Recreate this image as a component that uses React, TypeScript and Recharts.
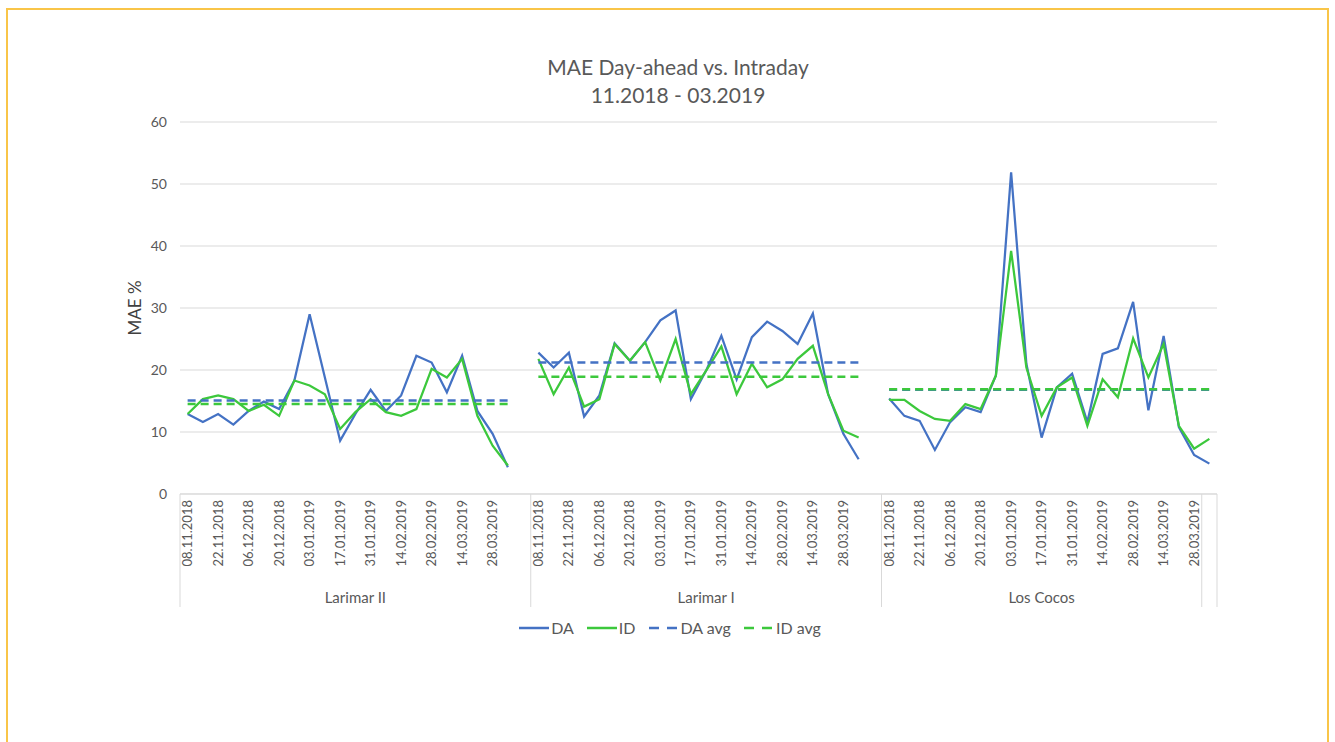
import { LineChart, Line, XAxis, YAxis, CartesianGrid, Legend } from 'recharts'

// weekly buckets (start of week)
const WEEKS = [
  '08.11.2018', '15.11.2018', '22.11.2018', '29.11.2018', '06.12.2018', '13.12.2018',
  '20.12.2018', '27.12.2018', '03.01.2019', '10.01.2019', '17.01.2019', '24.01.2019',
  '31.01.2019', '07.02.2019', '14.02.2019', '21.02.2019', '28.02.2019', '07.03.2019',
  '14.03.2019', '21.03.2019', '28.03.2019', '04.04.2019',
]

const PLANTS = ['Larimar II', 'Larimar I', 'Los Cocos']
// number of category slots each plant takes on the axis
const SLOTS = [23, 23, 22]

const DA_LARIMAR_II = [12.9, 11.6, 12.9, 11.2, 13.4, 14.9, 13.7, 18.3, 29.0, 18.8, 8.6, 12.9, 16.8, 13.4, 15.9, 22.3, 21.2, 16.4, 22.3, 13.4, 9.7, 4.3]
const ID_LARIMAR_II = [12.9, 15.3, 15.9, 15.3, 13.4, 14.4, 12.6, 18.3, 17.5, 16.1, 10.5, 13.2, 15.3, 13.2, 12.6, 13.7, 20.2, 18.8, 21.8, 12.6, 7.8, 4.6]

const DA_LARIMAR_I = [22.8, 20.4, 22.8, 12.5, 15.9, 24.3, 21.5, 24.5, 28.0, 29.6, 15.3, 19.9, 25.5, 18.5, 25.3, 27.8, 26.3, 24.2, 29.1, 16.1, 9.7, 5.6]
const ID_LARIMAR_I = [21.8, 16.1, 20.4, 14.1, 15.3, 24.2, 21.5, 24.5, 18.3, 25.0, 16.1, 19.9, 23.8, 16.1, 21.0, 17.2, 18.5, 21.8, 23.9, 16.1, 10.2, 9.1]

const DA_LOS_COCOS = [15.4, 12.6, 11.8, 7.1, 11.6, 14.0, 13.2, 19.1, 51.9, 21.0, 9.1, 17.2, 19.4, 11.6, 22.6, 23.5, 31.0, 13.5, 25.5, 10.8, 6.3, 4.9]
const ID_LOS_COCOS = [15.2, 15.2, 13.4, 12.1, 11.8, 14.5, 13.7, 19.1, 39.2, 20.4, 12.6, 17.2, 18.8, 11.0, 18.5, 15.6, 25.1, 18.8, 24.2, 11.0, 7.3, 8.9]

const DA_AVG = [15.1, 21.2, 16.8]
const ID_AVG = [14.5, 18.9, 16.9]

const Y_TICKS = [0, 10, 20, 30, 40, 50, 60]
const LEGEND_ORDER = ['DA', 'ID', 'DA avg', 'ID avg']

const DA_SERIES = [DA_LARIMAR_II, DA_LARIMAR_I, DA_LOS_COCOS]
const ID_SERIES = [ID_LARIMAR_II, ID_LARIMAR_I, ID_LOS_COCOS]

type Row = {
  key: string
  label: string
  plant: number
  slot: number
  DA: number | null
  ID: number | null
  DAavg: number | null
  IDavg: number | null
}

const rows: Row[] = []
PLANTS.forEach((plant, p) => {
  for (let i = 0; i < SLOTS[p]; i++) {
    const has = i < DA_SERIES[p].length
    rows.push({
      key: `${plant}-${i}`,
      label: has && i % 2 === 0 ? WEEKS[i] : '',
      plant: p,
      slot: i,
      DA: has ? DA_SERIES[p][i] : null,
      ID: has ? ID_SERIES[p][i] : null,
      DAavg: has ? DA_AVG[p] : null,
      IDavg: has ? ID_AVG[p] : null,
    })
  }
})
const rowByKey = new Map(rows.map((r) => [r.key, r]))

const W = 1335
const H = 742
const PLOT_LEFT = 180
const PLOT_RIGHT = 1217
const PLOT_TOP = 122
const PLOT_BOTTOM = 494
const STEP = (PLOT_RIGHT - PLOT_LEFT) / rows.length
const HALF = STEP / 2
const AXIS_BOTTOM = 607

const BLUE = '#4472C4'
const GREEN = '#3CC83C'
const GRID = '#d9d9d9'
const TEXT = '#595959'
const FONT = 'Lato, "Open Sans", sans-serif'

function CategoryTick({ x, payload }: any) {
  const row = rowByKey.get(payload.value)
  if (!row) return null
  const lastPlant = row.plant === PLANTS.length - 1
  const isLast = lastPlant && row.slot === SLOTS[row.plant] - 1
  const ty = PLOT_BOTTOM + 6
  return (
    <g>
      {row.label && (
        <text
          x={x}
          y={ty}
          dy="0.35em"
          textAnchor="end"
          transform={`rotate(-90, ${x}, ${ty})`}
          fill={TEXT}
          fontSize={13}
          fontFamily={FONT}
        >
          {row.label}
        </text>
      )}
      {row.slot === 0 && (
        <>
          <line x1={x - HALF} x2={x - HALF} y1={PLOT_BOTTOM} y2={AXIS_BOTTOM} stroke={GRID} />
          <text
            x={x - HALF + ((SLOTS[row.plant] - (lastPlant ? 1 : 0)) * STEP) / 2}
            y={603}
            textAnchor="middle"
            fill={TEXT}
            fontSize={15}
            fontFamily={FONT}
          >
            {PLANTS[row.plant]}
          </text>
        </>
      )}
      {isLast && (
        <>
          <line x1={x - HALF} x2={x - HALF} y1={PLOT_BOTTOM} y2={AXIS_BOTTOM} stroke={GRID} />
          <line x1={x + HALF} x2={x + HALF} y1={PLOT_BOTTOM} y2={AXIS_BOTTOM} stroke={GRID} />
        </>
      )}
    </g>
  )
}

function YLabel() {
  const cy = PLOT_TOP + (PLOT_BOTTOM - PLOT_TOP) / 2
  return (
    <text
      x={135}
      y={cy}
      dy="0.35em"
      textAnchor="middle"
      transform={`rotate(-90, 135, ${cy})`}
      fill="#404040"
      fontSize={17}
      fontFamily={FONT}
    >
      MAE %
    </text>
  )
}

function LegendContent({ payload }: any) {
  const items = [...(payload || [])].sort(
    (a: any, b: any) => LEGEND_ORDER.indexOf(a.value) - LEGEND_ORDER.indexOf(b.value),
  )
  return (
    <div
      style={{
        display: 'flex',
        justifyContent: 'center',
        alignItems: 'center',
        gap: 13,
        fontFamily: FONT,
        fontSize: 16,
        color: TEXT,
      }}
    >
      {items.map((e: any) => {
        const dashed = String(e.value).endsWith('avg')
        return (
          <span key={e.value} style={{ display: 'inline-flex', alignItems: 'center' }}>
            <svg width={30} height={10}>
              <line
                x1={0}
                y1={5}
                x2={30}
                y2={5}
                stroke={e.color}
                strokeWidth={2.5}
                strokeDasharray={dashed ? '10 8' : undefined}
              />
            </svg>
            <span style={{ marginLeft: 2 }}>{e.value}</span>
          </span>
        )
      })}
    </div>
  )
}

export default function App() {
  return (
    <div style={{ position: 'absolute', left: 0, top: 0, width: W, height: H, background: '#fff', overflow: 'hidden' }}>
      <div
        style={{
          position: 'absolute',
          left: 6,
          top: 8,
          width: 1323,
          height: 760,
          border: '2px solid #F9C548',
          boxSizing: 'border-box',
        }}
      />
      <div
        style={{
          position: 'absolute',
          left: 0,
          top: 53,
          width: 1356,
          textAlign: 'center',
          fontFamily: FONT,
          fontSize: 21,
          lineHeight: '28px',
          color: TEXT,
        }}
      >
        <div>MAE Day-ahead vs. Intraday</div>
        <div>11.2018 - 03.2019</div>
      </div>
      <div style={{ position: 'absolute', left: 0, top: 0 }}>
        <LineChart
          width={W}
          height={H}
          data={rows}
          margin={{ top: PLOT_TOP, right: W - PLOT_RIGHT, bottom: 0, left: 0 }}
        >
          <CartesianGrid vertical={false} stroke={GRID} />
          <XAxis
            dataKey="key"
            interval={0}
            height={H - PLOT_BOTTOM}
            padding={{ left: HALF, right: HALF }}
            axisLine={{ stroke: GRID }}
            tickLine={false}
            tick={<CategoryTick />}
          />
          <YAxis
            width={PLOT_LEFT}
            domain={[0, 60]}
            ticks={Y_TICKS}
            axisLine={false}
            tickLine={false}
            tickMargin={7}
            tick={{ fill: TEXT, fontSize: 14, fontFamily: FONT }}
            label={<YLabel />}
          />
          <Line dataKey="DA" name="DA" stroke={BLUE} strokeWidth={2.25} dot={false} activeDot={false} isAnimationActive={false} />
          <Line dataKey="ID" name="ID" stroke={GREEN} strokeWidth={2.25} dot={false} activeDot={false} isAnimationActive={false} />
          <Line dataKey="DAavg" name="DA avg" stroke={BLUE} strokeWidth={2.5} strokeDasharray="8 5" dot={false} activeDot={false} isAnimationActive={false} />
          <Line dataKey="IDavg" name="ID avg" stroke={GREEN} strokeWidth={2.5} strokeDasharray="8 5" dot={false} activeDot={false} isAnimationActive={false} />
          <Legend
            layout="horizontal"
            verticalAlign="middle"
            align="center"
            content={<LegendContent />}
            wrapperStyle={{ top: 618, left: 0, width: 1340, height: 24 }}
          />
        </LineChart>
      </div>
    </div>
  )
}
